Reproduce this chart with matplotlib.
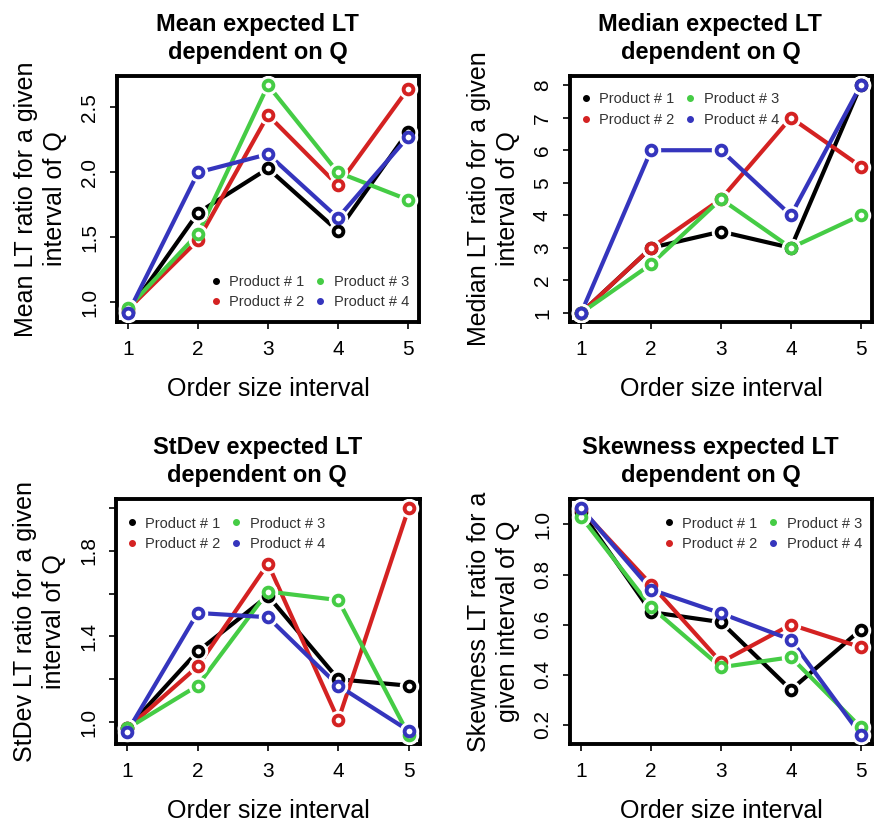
import matplotlib
matplotlib.use('Agg')
import matplotlib.pyplot as plt
from matplotlib.lines import Line2D

plt.rcParams['font.family'] = ['Liberation Sans', 'DejaVu Sans']

# order size intervals
x = [1, 2, 3, 4, 5]
products = ['Product # 1', 'Product # 2', 'Product # 3', 'Product # 4']
colors = ['black', '#d42222', '#45cc45', '#3535bd']

# LT ratio per product and interval of Q
mean_p1 = [0.93, 1.69, 2.03, 1.55, 2.31]
mean_p2 = [0.95, 1.48, 2.44, 1.90, 2.64]
mean_p3 = [0.96, 1.53, 2.67, 2.00, 1.79]
mean_p4 = [0.92, 2.00, 2.14, 1.65, 2.27]

median_p1 = [1, 3, 3.5, 3, 8]
median_p2 = [1, 3, 4.5, 7, 5.5]
median_p3 = [1, 2.5, 4.5, 3, 4]
median_p4 = [1, 6, 6, 4, 8]

sd_p1 = [0.97, 1.33, 1.59, 1.20, 1.17]
sd_p2 = [0.97, 1.26, 1.74, 1.01, 2.00]
sd_p3 = [0.97, 1.17, 1.61, 1.57, 0.94]
sd_p4 = [0.955, 1.51, 1.49, 1.17, 0.96]

skew_p1 = [1.05, 0.65, 0.61, 0.34, 0.58]
skew_p2 = [1.06, 0.76, 0.45, 0.60, 0.51]
skew_p3 = [1.03, 0.67, 0.43, 0.47, 0.19]
skew_p4 = [1.065, 0.74, 0.645, 0.54, 0.16]

panels = [
    ('Mean expected LT\ndependent on Q', 'Mean LT ratio for a given\ninterval of Q',
     [mean_p1, mean_p2, mean_p3, mean_p4], [1.0, 1.5, 2.0, 2.5], None,
     [0.1339, 0.6092, 0.3455, 0.2985], 'lower right', (1.0, 0.01)),
    ('Median expected LT\ndependent on Q', 'Median LT ratio for a given\ninterval of Q',
     [median_p1, median_p2, median_p3, median_p4], [1, 2, 3, 4, 5, 6, 7, 8], None,
     [0.6522, 0.6092, 0.3455, 0.2985], 'upper left', (0.0, 0.975)),
    ('StDev expected LT\ndependent on Q', 'StDev LT ratio for a given\ninterval of Q',
     [sd_p1, sd_p2, sd_p3, sd_p4], [1.0, 1.2, 1.4, 1.6, 1.8, 2.0],
     ['1.0', '', '1.4', '', '1.8', ''],
     [0.1327, 0.0971, 0.3478, 0.2973], 'upper left', (0.0, 0.97)),
    ('Skewness expected LT\ndependent on Q', 'Skewness LT ratio for a\ngiven interval of Q',
     [skew_p1, skew_p2, skew_p3, skew_p4], [0.2, 0.4, 0.6, 0.8, 1.0], None,
     [0.6522, 0.0971, 0.3455, 0.2973], 'upper right', (1.0, 0.97)),
]

fig = plt.figure(figsize=(8.74, 8.24), dpi=100)

for title, ylabel, series, yticks, ylabels, rect, loc, anchor in panels:
    ax = fig.add_axes(rect)
    for ys, c in zip(series, colors):
        ax.plot(x, ys, color=c, lw=3.0, solid_capstyle='butt', zorder=2)
        # white halo so the line stops short of each point
        ax.plot(x, ys, ls='none', marker='o', ms=13, mfc='white', mec='white', zorder=3)
        ax.plot(x, ys, ls='none', marker='o', ms=7, mfc='white', mec=c, mew=2.8, zorder=4)

    # axis limits padded by 4% like base R
    lo = min(min(s) for s in series)
    hi = max(max(s) for s in series)
    pad = (hi - lo) * 0.04
    ax.set_ylim(lo - pad, hi + pad)
    ax.set_xlim(0.84, 5.16)

    ax.set_xticks(x)
    ax.set_yticks(yticks)
    if ylabels is not None:
        ax.set_yticklabels(ylabels)
    ax.tick_params(axis='both', direction='out', length=5, width=1.2, labelsize=15, pad=8)
    for lab in ax.get_yticklabels():
        lab.set_rotation(90)
        lab.set_va('center')

    for sp in ax.spines.values():
        sp.set_linewidth(2.8)

    ax.set_title(title, fontsize=17, fontweight='bold', x=0.465, pad=12, linespacing=1.3)
    ax.set_ylabel(ylabel, fontsize=18, labelpad=9, linespacing=1.3)
    ax.set_xlabel('Order size interval', fontsize=18, labelpad=13)

    handles = [Line2D([], [], ls='none', marker='o', ms=4, color=c) for c in colors]
    leg = ax.legend(handles, products, loc=loc, bbox_to_anchor=anchor, ncol=2,
                    frameon=False, fontsize=10.5, handlelength=0.8, handletextpad=0.5,
                    columnspacing=0.7, labelspacing=0.45, borderaxespad=0.3)
    for t in leg.get_texts():
        t.set_color('#333333')

fig.savefig('out.png', dpi=100)
